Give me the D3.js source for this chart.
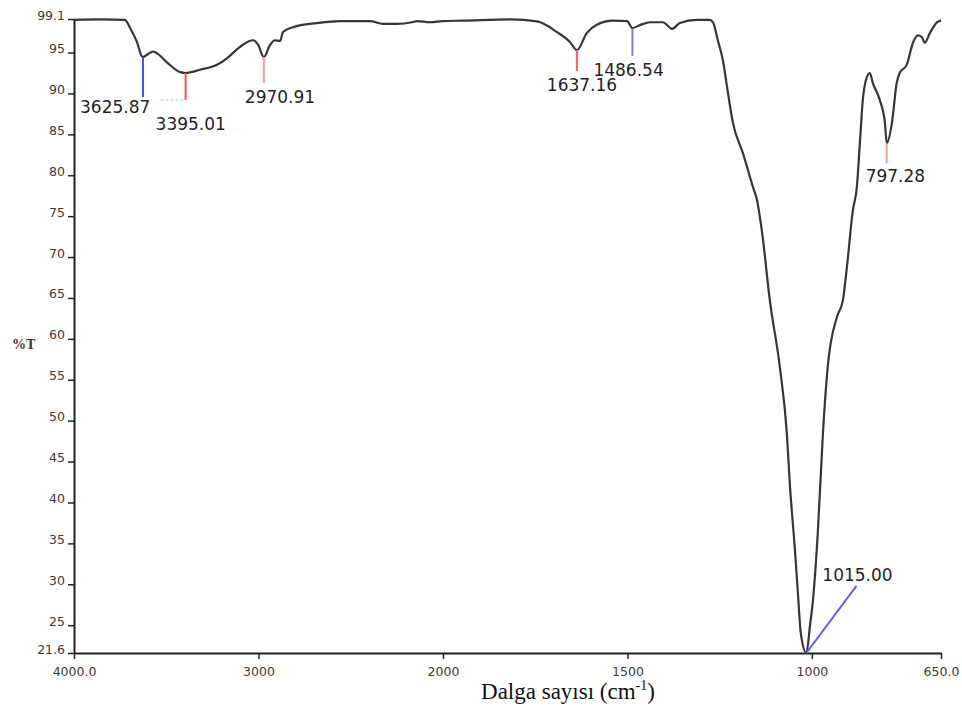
<!DOCTYPE html>
<html lang="tr">
<head>
<meta charset="UTF-8">
<title>FTIR</title>
<script src="https://d3js.org/d3.v7.min.js"></script>
<style>
    body { margin: 0; background: #fff; }
    .tick text { font-family: "DejaVu Sans", sans-serif; font-size: 12.5px; fill: #3a3a3a; }
    .tick line, .domain { stroke: #222; }
    .peak-label { font-family: "DejaVu Sans", sans-serif; font-size: 17px; fill: #1f1f2a; }
</style>
</head>
<body>
<svg id="chart" width="962" height="711"></svg>
<script>
// spectrum (wavenumber cm-1, %T)
const wavenumbers = [4000, 3850, 3724, 3696, 3659, 3631, 3626, 3600, 3572, 3550, 3496, 3425, 3395, 3317, 3225, 3171, 3100,
    3030, 3003, 2971, 2938, 2911, 2883, 2867, 2813, 2683, 2558, 2396, 2325, 2249, 2168, 2141, 2070, 2000,
    1946, 1818, 1745, 1691, 1656, 1637, 1610, 1583, 1539, 1501, 1487, 1466, 1439, 1404, 1379, 1358, 1312, 1277,
    1268, 1255, 1241, 1230, 1214, 1187, 1160, 1149, 1135, 1114, 1087, 1068, 1060, 1046, 1038, 1030, 1015,
    1005, 997, 984, 970, 957, 932, 916, 905, 889, 878, 870, 862, 851, 843, 835, 816, 802, 797, 783, 770, 762,
    743, 726, 713, 702, 694, 680, 661, 650];
const transmittance = [99.0, 99.05, 99.0, 98.0, 96.3, 94.5, 94.45, 94.8, 95.1, 94.9, 93.8, 92.6, 92.5, 92.9, 93.5, 94.3, 95.7,
    96.5, 96.0, 94.45, 95.9, 96.5, 96.4, 97.5, 98.1, 98.6, 98.85, 98.85, 98.5, 98.5, 98.7, 98.85, 98.7, 98.85,
    98.9, 99.05, 98.8, 97.5, 96.3, 95.3, 97.4, 98.4, 98.9, 98.85, 98.0, 98.35, 98.7, 98.7, 97.9, 98.6, 99.0, 99.0,
    98.7, 96.5, 94.0, 90.8, 86.4, 82.7, 78.6, 77.0, 73.0, 64.7, 56.6, 48.5, 42.4, 34.2, 29.0, 24.0, 21.6,
    25.0, 28.1, 36.3, 48.5, 56.6, 62.7, 64.7, 68.8, 75.7, 78.6, 83.9, 89.2, 92.0, 92.5, 91.3, 89.2, 86.4, 83.9, 86.4, 91.3, 92.5,
    93.5, 96.2, 97.1, 96.9, 96.2, 97.4, 98.7, 98.9];

// labelled peaks
const peakWavenumbers = [3625.87, 3395.01, 2970.91, 1637.16, 1486.54, 797.28, 1015.00];
const peakValues = [94.45, 92.5, 94.45, 95.3, 97.9, 83.9, 21.6];
const peakLabels = ["3625.87", "3395.01", "2970.91", "1637.16", "1486.54", "797.28", "1015.00"];

const xTicks = [4000, 3000, 2000, 1500, 1000, 650];
const xTickLabels = ["4000.0", "3000", "2000", "1500", "1000", "650.0"];
const yTicks = [99.1, 95, 90, 85, 80, 75, 70, 65, 60, 55, 50, 45, 40, 35, 30, 25, 21.6];

const svg = d3.select("#chart");

// scale changes at 2000 cm-1 (double spread below)
const x = d3.scaleLinear().domain([4000, 2000, 650]).range([74, 443, 941]);
const y = d3.scaleLinear().domain([21.6, 99.1]).range([653, 19]);

// axes
const yAxis = svg.append("g")
    .attr("transform", "translate(74,0)")
    .call(d3.axisLeft(y).tickValues(yTicks).tickSize(6).tickSizeOuter(0)
        .tickFormat(d => (d === 99.1 || d === 21.6) ? d.toFixed(1) : d));
yAxis.select(".domain").attr("stroke-width", 2);
yAxis.selectAll(".tick line").attr("stroke-width", 1.5);
yAxis.selectAll(".tick text").attr("x", -9).attr("dy", "0");

const xAxis = svg.append("g")
    .attr("transform", "translate(0,653)")
    .call(d3.axisBottom(x).tickValues(xTicks).tickSize(6).tickSizeOuter(0)
        .tickFormat((d, i) => xTickLabels[i]));
xAxis.select(".domain").attr("stroke-width", 2);
xAxis.selectAll(".tick line").attr("stroke-width", 1.5);
xAxis.selectAll(".tick text").attr("y", 14);

// axis titles
svg.append("text")
    .attr("x", 12).attr("y", 349)
    .style("font-family", "'Liberation Serif', serif")
    .style("font-weight", "bold")
    .style("font-size", "14px")
    .attr("fill", "#333")
    .text("%T");

const xt = svg.append("text")
    .attr("x", 568).attr("y", 699)
    .attr("text-anchor", "middle")
    .style("font-family", "'Liberation Serif', serif")
    .style("font-size", "23px")
    .attr("fill", "#111")
    .text("Dalga sayısı (cm");
xt.append("tspan").attr("dy", -9).style("font-size", "14px").text("-1");
xt.append("tspan").attr("dy", 9).text(")");

// spectrum line
const spectrum = wavenumbers.map((w, i) => ({ w: w, t: transmittance[i] }));
svg.append("path")
    .datum(spectrum)
    .attr("fill", "none")
    .attr("stroke", "#363636")
    .attr("stroke-width", 2.2)
    .attr("stroke-linejoin", "round")
    .attr("d", d3.line().x(d => x(d.w)).y(d => y(d.t)).curve(d3.curveMonotoneX));

// peak markers: colour, marker length, label offset
const markerStyle = [
    { color: "#4a4aff", len: 40, dx: -63, ly: 113 },
    { color: "#ff4a4a", len: 27, dx: -30, ly: 130 },
    { color: "#ff9a9a", len: 26, dx: -19, ly: 103 },
    { color: "#ff5a5a", len: 21, dx: -30, ly: 91 },
    { color: "#7a7ae0", len: 27, dx: -39, ly: 76 },
    { color: "#ff9a9a", len: 20, dx: -21, ly: 182 },
    { color: "#5a5aff", len: 0, dx: 16, ly: 581 }
];

peakWavenumbers.forEach((w, i) => {
    const s = markerStyle[i];
    const px = x(w), py = y(peakValues[i]);
    if (i === 6) {
        svg.append("line")
            .attr("x1", px).attr("y1", py)
            .attr("x2", px + 50).attr("y2", py - 67)
            .attr("stroke", s.color).attr("stroke-width", 2);
    } else {
        svg.append("line")
            .attr("x1", px).attr("y1", py)
            .attr("x2", px).attr("y2", py + s.len)
            .attr("stroke", s.color).attr("stroke-width", 2);
    }
    svg.append("text")
        .attr("class", "peak-label")
        .attr("x", px + s.dx).attr("y", s.ly)
        .text(peakLabels[i]);
});

// faint leader next to 3395.01
svg.append("line")
    .attr("x1", x(3395.01) - 25).attr("y1", y(peakValues[1]) + 27)
    .attr("x2", x(3395.01)).attr("y2", y(peakValues[1]) + 27)
    .attr("stroke", "#c8d8ee").attr("stroke-width", 1.5)
    .attr("stroke-dasharray", "3,2");
</script>
</body>
</html>
